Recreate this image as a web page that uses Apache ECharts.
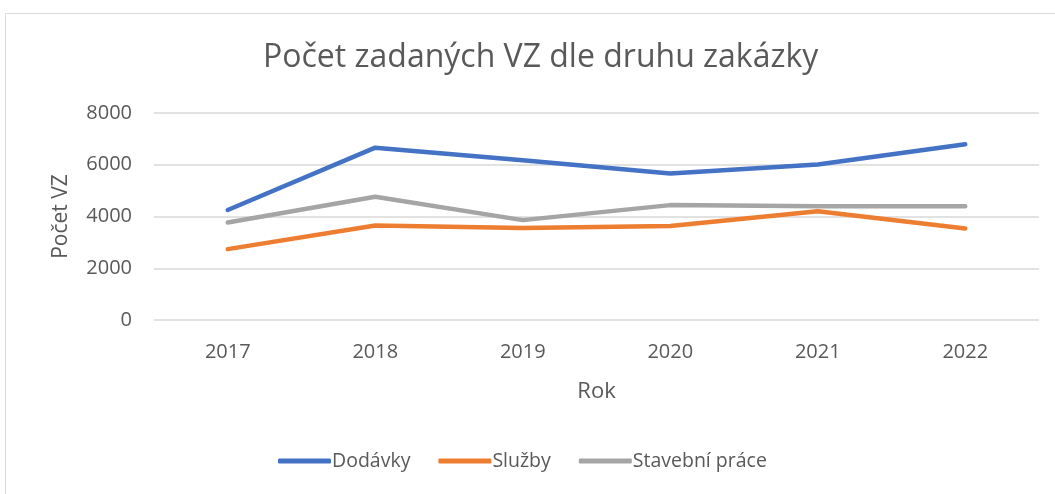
<!DOCTYPE html>
<html><head><meta charset="utf-8">
<script src="https://cdn.jsdelivr.net/npm/echarts@6/dist/echarts.min.js"></script>
<style>html,body{margin:0;padding:0;background:#fff}#c{width:1055px;height:494px}</style>
</head><body><div id="c"></div>
<script>
const categories = ['2017','2018','2019','2020','2021','2022'];
const dodavky = [4250, 6660, 6170, 5660, 6010, 6790];
const sluzby = [2740, 3650, 3560, 3630, 4200, 3540];
const stavebni = [3770, 4760, 3860, 4440, 4400, 4400];
const seriesNames = ['Dodávky','Služby','Stavební práce'];
const colors = ['#4472C4','#ED7D31','#A5A5A5'];
const font = 'Open Sans';
const txt = '#595959';
const chart = echarts.init(document.getElementById('c'));
const data = [dodavky, sluzby, stavebni];
chart.setOption({
  animation:false,
  graphic:[{type:'rect',shape:{x:5.5,y:13.5,width:1060,height:500},style:{fill:'none',stroke:'#D9D9D9',lineWidth:1},silent:true}],
  title:{text:'Počet zadaných VZ dle druhu zakázky',left:258,top:37,textStyle:{fontFamily:font,fontSize:32,fontWeight:'normal',color:txt}},
  grid:{left:154,right:16,top:113,bottom:174,containLabel:false},
  legend:{bottom:18,left:273,icon:'roundRect',itemWidth:53,itemHeight:5,itemGap:28,textStyle:{fontFamily:font,fontSize:19.5,color:txt,padding:[0,0,0,-4]},data:seriesNames},
  xAxis:{type:'category',data:categories,boundaryGap:true,name:'Rok',nameLocation:'middle',nameGap:61,nameTextStyle:{fontFamily:font,fontSize:22,color:txt},
    axisLine:{show:false},axisTick:{show:false},axisLabel:{fontFamily:font,fontSize:20,color:txt,margin:22}},
  yAxis:{type:'value',min:0,max:8000,interval:2000,name:'Počet VZ',nameLocation:'middle',nameGap:82,nameTextStyle:{fontFamily:font,fontSize:21,color:txt},
    axisLine:{show:false},axisTick:{show:false},axisLabel:{fontFamily:font,fontSize:20,color:txt,margin:22,formatter:v=>String(v)},
    splitLine:{lineStyle:{color:'#D9D9D9',width:1.5}}},
  series:data.map((d,i)=>({name:seriesNames[i],type:'line',data:d,showSymbol:false,symbol:'none',
    lineStyle:{width:4.5,color:colors[i],cap:'round',join:'round'},itemStyle:{color:colors[i]}}))
});
</script></body></html>
